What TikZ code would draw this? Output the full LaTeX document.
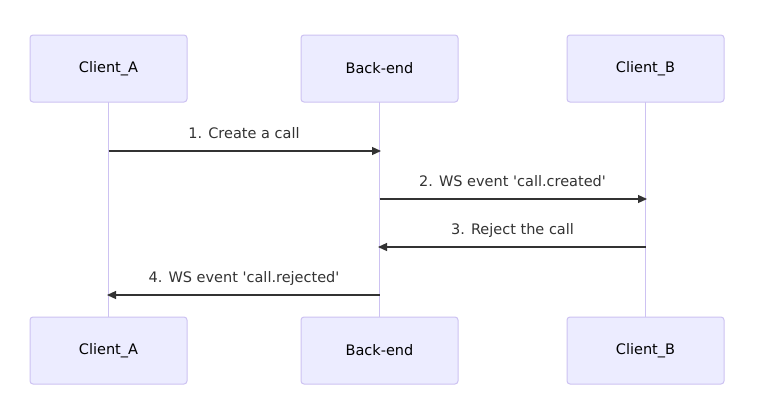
\documentclass[tikz,border=0pt]{standalone}
\usepackage{fontspec}
\setmainfont{DejaVu Sans}
\usetikzlibrary{arrows.meta}
\definecolor{actfill}{HTML}{ECECFF}
\definecolor{actdraw}{HTML}{CDC2F2}
\definecolor{ink}{HTML}{333333}
\tikzset{
  actor/.style={draw=actdraw, fill=actfill, rounded corners=3pt, line width=1pt,
    minimum width=157pt, minimum height=67pt, inner sep=0pt, text=black,
    font=\fontsize{14.5}{16}\selectfont},
  life/.style={draw=actdraw, line width=1.6pt},
  msg/.style={draw=ink, line width=1.2pt, -{Triangle[length=9pt,width=8pt]}},
  lbl/.style={text=ink, font=\fontsize{14.5}{16}\selectfont, inner sep=0pt, anchor=base}
}
\begin{document}
\begin{tikzpicture}[x=1pt,y=-1pt]
\useasboundingbox (0,0) rectangle (769,418);
\fill[white] (0,0) rectangle (769,418);
% lifelines first
\coordinate (la1) at (108.5,102); \coordinate (la2) at (108.5,317);
\coordinate (lb1) at (379.5,102); \coordinate (lb2) at (379.5,317);
\coordinate (lc1) at (645.5,102); \coordinate (lc2) at (645.5,317);
\draw[life] (la1) -- (la2);
\draw[life] (lb1) -- (lb2);
\draw[life] (lc1) -- (lc2);
\node[actor] (at) at (108.5,68.5) {Client\_A};
\node[actor] (bt) at (379.5,68.5) {Back-end};
\node[actor] (ct) at (645.5,68.5) {Client\_B};
\node[actor] (ab) at (108.5,350.5) {Client\_A};
\node[actor] (bb) at (379.5,350.5) {Back-end};
\node[actor] (cb) at (645.5,350.5) {Client\_B};
% messages
\coordinate (m1s) at (108.5,151); \coordinate (m1e) at (381,151);
\coordinate (m2s) at (379.5,199); \coordinate (m2e) at (647,199);
\coordinate (m3s) at (645.5,247); \coordinate (m3e) at (378,247);
\coordinate (m4s) at (379.5,295); \coordinate (m4e) at (107,295);
\draw[msg] (m1s) -- (m1e);
\draw[msg] (m2s) -- (m2e);
\draw[msg] (m3s) -- (m3e);
\draw[msg] (m4s) -- (m4e);
\node[lbl] (t1) at (244,138.5) {1. Create a call};
\node[lbl] (t2) at (512.5,186.5) {2. WS event \textquotesingle call.created\textquotesingle};
\node[lbl] (t3) at (512.5,234.5) {3. Reject the call};
\node[lbl] (t4) at (244,282.5) {4. WS event \textquotesingle call.rejected\textquotesingle};
\end{tikzpicture}
\end{document}
